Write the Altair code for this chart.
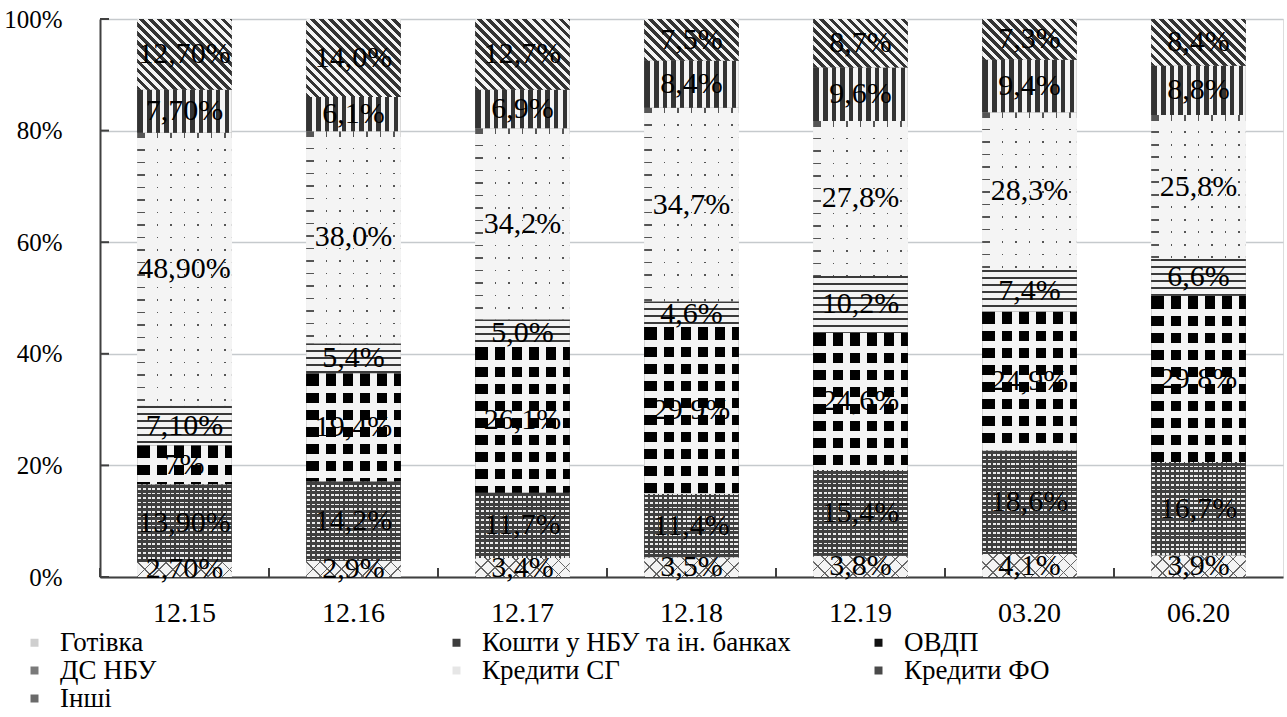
import math
import altair as alt
import pandas as pd

# Structure of the bank assets, % of total
periods = ["12.15", "12.16", "12.17", "12.18", "12.19", "03.20", "06.20"]
categories = ["Готівка", "Кошти у НБУ та ін. банках", "ОВДП", "ДС НБУ",
              "Кредити СГ", "Кредити ФО", "Інші"]

gotivka = [2.7, 2.9, 3.4, 3.5, 3.8, 4.1, 3.9]
koshty = [13.9, 14.2, 11.7, 11.4, 15.4, 18.6, 16.7]
ovdp = [7.0, 19.4, 26.1, 29.9, 24.6, 24.9, 29.8]
ds_nbu = [7.1, 5.4, 5.0, 4.6, 10.2, 7.4, 6.6]
kredyty_sg = [48.9, 38.0, 34.2, 34.7, 27.8, 28.3, 25.8]
kredyty_fo = [7.7, 6.1, 6.9, 8.4, 9.6, 9.4, 8.8]
inshi = [12.7, 14.0, 12.7, 7.5, 8.7, 7.3, 8.4]

series = [gotivka, koshty, ovdp, ds_nbu, kredyty_sg, kredyty_fo, inshi]

# decimals used in the value labels of each period
label_decimals = [2, 1, 1, 1, 1, 1, 1]
label_overrides = {("12.15", "ОВДП"): "7%"}

y_ticks = [0, 0.2, 0.4, 0.6, 0.8, 1.0]

legend_grays = ["#cfcfcf", "#3d3d3d", "#111111", "#7a7a7a", "#e6e6e6", "#4a4a4a", "#6a6a6a"]

W, H = 1183, 558
PAD_INNER = 0.44
STEP = W / len(periods)
FONT = "Liberation Serif"
AXIS_GRAY = "#404040"

rows = []
for i, p in enumerate(periods):
    for j, c in enumerate(categories):
        v = series[j][i]
        lab = label_overrides.get((p, c), f"{v:.{label_decimals[i]}f}".replace(".", ",") + "%")
        rows.append({"period": p, "category": c, "order": j, "value": v, "label": lab})
df = pd.DataFrame(rows)

base = alt.Chart(df).transform_stack(
    stack="value", groupby=["period"], as_=["y0", "y1"], offset="normalize",
    sort=[alt.SortField("order", "ascending")],
).transform_calculate(ym="(datum.y0 + datum.y1) / 2")

x_scale = alt.Scale(paddingInner=PAD_INNER, paddingOuter=PAD_INNER / 2)
x_axis = alt.Axis(labelAngle=0, labelFont=FONT, labelFontSize=28, labelColor="black",
                  labelPadding=22, ticks=False, domainColor=AXIS_GRAY, domainWidth=2)
y_axis = alt.Axis(format="%", values=y_ticks, labelFont=FONT,
                  labelFontSize=25, labelColor="black", labelPadding=38, ticks=False,
                  domainColor=AXIS_GRAY, domainWidth=2, gridColor="#c6cacd", gridWidth=1.6)
y_scale = alt.Scale(domain=[0, 1], nice=False)

x_enc = alt.X("period:N", sort=periods, title=None, scale=x_scale, axis=x_axis)
y_enc = alt.Y("y0:Q", title=None, scale=y_scale, axis=y_axis)
y2_enc = alt.Y2("y1:Q")


# --- fill textures built from hard-stop linear gradients --------------------
def stripe_stops(length, period, on_len, on, off, phase=0.0):
    stops = []
    pos = -phase
    while pos < length:
        a, b, c = max(pos, 0.0), min(max(pos + on_len, 0.0), length), min(pos + period, length)
        if b > a:
            stops += [(a, on), (b, on)]
        if c > b:
            stops += [(max(b, 0.0), off), (c, off)]
        pos += period
    return [{"offset": round(o / length, 5), "color": col} for o, col in stops]


def vertical_stripes(w, period, on_len, on, off, phase=0.0):
    return {"gradient": "linear", "x1": 0, "y1": 0, "x2": 1, "y2": 0,
            "stops": stripe_stops(w, period, on_len, on, off, phase)}


def horizontal_stripes(h, period, on_len, on, off, phase=0.0):
    return {"gradient": "linear", "x1": 0, "y1": 0, "x2": 0, "y2": 1,
            "stops": stripe_stops(h, period, on_len, on, off, phase)}


def diagonal_stripes(w, h, period, on_len, on, off, falling=True):
    t = (w + h) / (w * w + h * h)
    length = (w + h) / math.sqrt(2)
    if falling:   # "\" lines
        g = {"x1": 0, "y1": 1, "x2": round(w * t, 5), "y2": round(1 - h * t, 5)}
    else:         # "/" lines
        g = {"x1": 0, "y1": 0, "x2": round(w * t, 5), "y2": round(h * t, 5)}
    g.update({"gradient": "linear", "stops": stripe_stops(length, period, on_len, on, off)})
    return g


LIGHT = "#f4f4f4"
DARK = "#333333"
CLEAR = "rgba(255,255,255,0)"
BAR_W = STEP * (1 - PAD_INNER)


def textures(cat_idx, h):
    w = BAR_W
    if cat_idx == 0:      # light ground with a thin lattice
        return [diagonal_stripes(w, h, 10, 1.2, "#666666", LIGHT, True),
                diagonal_stripes(w, h, 10, 1.2, "#666666", CLEAR, False)]
    if cat_idx == 1:      # dark ground with light dashes
        return [horizontal_stripes(h, 4.6, 1.7, "#ececec", "#404040", 1.0),
                vertical_stripes(w, 4.7, 1.5, "#404040", CLEAR, 0.5)]
    if cat_idx == 2:      # black dots on a light ground
        return [horizontal_stripes(h, 17, 10, "#000000", LIGHT, -3),
                vertical_stripes(w, 17, 10, CLEAR, LIGHT, -3)]
    if cat_idx == 3:      # brick courses
        return [horizontal_stripes(h, 7, 2, "#3a3a3a", LIGHT, 0)]
    if cat_idx == 4:      # sparse small dots
        return [horizontal_stripes(h, 12.5, 1.6, "#555555", LIGHT, -4),
                vertical_stripes(w, 13.5, 1.6, CLEAR, LIGHT, -6)]
    if cat_idx == 5:      # vertical bars
        return [vertical_stripes(w, 8.6, 4.3, DARK, LIGHT, -1.5)]
    return [diagonal_stripes(w, h, 6.4, 3.2, DARK, LIGHT, True)]


layers = [
    base.mark_bar().encode(
        x=x_enc, y=y_enc, y2=y2_enc,
        color=alt.Color(
            "category:N", scale=alt.Scale(domain=categories, range=legend_grays),
            legend=alt.Legend(
                title=None, orient="none", legendX=-79, legendY=H + 52, columns=3,
                gridAlign="all", columnPadding=74, rowPadding=0, labelFont=FONT,
                labelFontSize=27, labelColor="black", labelLimit=600,
                symbolType="square", symbolSize=64, symbolStrokeWidth=0, labelOffset=12,
                direction="horizontal",
            ),
        ),
    )
]

for i, p in enumerate(periods):
    total = sum(s[i] for s in series)
    for j, c in enumerate(categories):
        h = series[j][i] / total * H
        for grad in textures(j, h):
            layers.append(
                base.transform_filter((alt.datum.period == p) & (alt.datum.category == c))
                .mark_bar(fill=grad)
                .encode(x=x_enc, y=y_enc, y2=y2_enc)
            )

# inward tick marks on both axes
layers.append(
    alt.Chart(pd.DataFrame({"v": y_ticks})).mark_rule(color=AXIS_GRAY, strokeWidth=2).encode(
        y=alt.Y("v:Q", title=None, scale=y_scale, axis=y_axis),
        x=alt.value(0), x2=alt.value(9),
    )
)
layers.append(
    alt.Chart(pd.DataFrame({"period": periods})).mark_rule(
        color=AXIS_GRAY, strokeWidth=2, xOffset=-STEP * PAD_INNER / 2
    ).encode(
        x=alt.X("period:N", sort=periods, title=None, scale=x_scale, axis=x_axis, bandPosition=0),
        y=alt.value(H), y2=alt.value(H - 9),
    )
)

layers.append(
    base.mark_text(font=FONT, fontSize=30, color="black").encode(
        x=x_enc, y=alt.Y("ym:Q", title=None, scale=y_scale, axis=y_axis),
        text="label:N",
    )
)

chart = alt.layer(*layers).properties(
    width=W, height=H,
    autosize=alt.AutoSizeParams(type="none"),
    padding={"left": 100, "top": 19, "right": 4, "bottom": 140},
).configure_view(stroke=AXIS_GRAY, strokeWidth=2).configure(background="white")

chart.save("out.html", embed_options={"renderer": "svg", "actions": False})
